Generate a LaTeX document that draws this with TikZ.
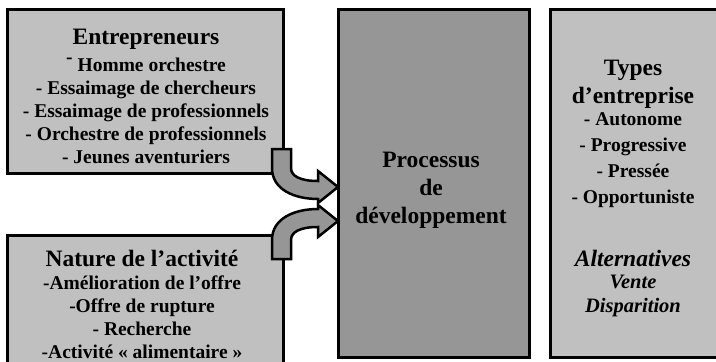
\documentclass[tikz,border=0pt]{standalone}
\usepackage{fontspec}
\setmainfont{Liberation Serif}
\usetikzlibrary{positioning}
\definecolor{boxgrey}{RGB}{192,192,192}
\definecolor{procgrey}{RGB}{150,150,150}
\begin{document}
\begin{tikzpicture}[x=1pt,y=-1pt,
  box/.style={draw=black,line width=3pt,inner sep=0pt,outer sep=0pt},
  lightbox/.style={box,fill=boxgrey},
  darkbox/.style={box,fill=procgrey},
  txt/.style={align=center,inner sep=0pt,font=\fontsize{19.5}{23}\selectfont\bfseries},
  bentarrow/.pic={\filldraw[fill=procgrey,line width=2.5pt] (-66,-38) -- (-66,-19)
    .. controls (-66,3) and (-43,12) .. (-20,12) -- (-20,16) -- (0,0) -- (-20,-16) -- (-20,-6)
    .. controls (-38,-6) and (-47,-11) .. (-47,-19) -- (-47,-38) -- cycle;}]
\useasboundingbox (0,0) rectangle (716,362);
% boxes
\node[lightbox,minimum width=276pt,minimum height=164pt] (entr) at (145,91) {};
\node[lightbox,minimum width=276pt,minimum height=140pt] (nat) at (145,305) {};
\node[darkbox,minimum width=191pt,minimum height=348pt] (proc) at (433.5,183) {};
\node[lightbox,minimum width=170pt,minimum height=348pt] (types) at (635,183) {};
% texts (base = last line)
\node[txt,anchor=base] (entrtxt) at (146,163) {{\fontsize{23.5}{23}\selectfont Entrepreneurs}\\[4pt]
  \raisebox{.4em}{-} Homme orchestre\\
  - Essaimage de chercheurs\\
  - Essaimage de professionnels\\
  - Orchestre de professionnels\\
  - Jeunes aventuriers};
\node[txt,anchor=base] (nattxt) at (142,358) {{\fontsize{23.5}{23}\selectfont Nature de l’activité}\\
  -Amélioration de l’offre\\
  -Offre de rupture\\
  - Recherche\\
  -Activité « alimentaire »};
\node[txt,anchor=base,font=\fontsize{23.5}{28}\selectfont\bfseries] (proctxt) at (431,223)
  {Processus\\de\\développement};
\node[txt,anchor=base,font=\fontsize{19.5}{26}\selectfont\bfseries] (typestxt) at (633,312)
  {{\fontsize{23.5}{26}\selectfont Types}\\[2pt]
  {\fontsize{23.5}{26}\selectfont d’entreprise}\\[-4pt]
  - Autonome\\
  - Progressive\\
  - Pressée\\
  - Opportuniste\\[37pt]
  {\itshape\fontsize{23.5}{26}\selectfont Alternatives}\\[-4pt]
  {\itshape\fontsize{20.5}{26}\selectfont Vente}\\[-2pt]
  {\itshape\fontsize{20.5}{26}\selectfont Disparition}};
% arrows into the process
\pic at ([yshift=-4pt]proc.west) {bentarrow};
\pic[yscale=-1] at ([yshift=-38pt]proc.west) {bentarrow};
\end{tikzpicture}
\end{document}
